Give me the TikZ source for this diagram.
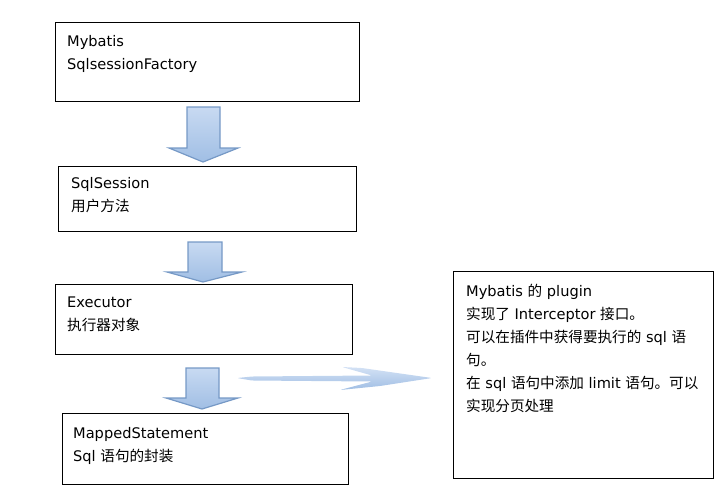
\documentclass[tikz,border=0pt]{standalone}
\usepackage{fontspec}
\setmainfont{DejaVu Sans}
\newfontfamily\cjk{Noto Sans CJK SC}
\usetikzlibrary{positioning}
\definecolor{arrow border color}{RGB}{118,153,198}
\definecolor{arrow top color}{RGB}{200,218,242}
\definecolor{arrow bottom color}{RGB}{160,190,228}
\tikzset{
    x={1pt},
    y={-1pt},
    box/.style={
        draw=black,
        line width={1pt},
        rectangle,
        anchor=north west,
        inner sep=0pt,
    },
    box text/.style={
        anchor=north west,
        align=left,
        inner sep=0pt,
        font={\fontsize{14.6}{23}\selectfont},
        xshift=12pt,
        yshift=-13pt,
    },
    block arrow/.style={
        draw=arrow border color,
        line width={1.2pt},
        top color=arrow top color,
        bottom color=arrow bottom color,
    },
    swoosh/.style={
        top color=arrow top color!80!white,
        bottom color=arrow bottom color,
        rounded corners={1.5pt},
    },
}

\begin{document}
\begin{tikzpicture}
\useasboundingbox (0,0) rectangle (721,488);
% boxes
\node[box, minimum width=304, minimum height=79] (factory) at (55,22) {};
\node[box, minimum width=298, minimum height=65] (session) at (58,166) {};
\node[box, minimum width=297, minimum height=70] (executor) at (55,284) {};
\node[box, minimum width=286, minimum height=71] (statement) at (62,413) {};
\node[box, minimum width=260, minimum height=207] (plugin) at (453,271) {};
% texts
\node[box text] (factory text) at (factory.north west) {Mybatis\\SqlsessionFactory};
\node[box text, xshift=1pt, yshift=2pt] (session text) at (session.north west) {SqlSession\\{\cjk 用户方法}};
\node[box text] (executor text) at (executor.north west) {Executor\\{\cjk 执行器对象}};
\node[box text, xshift=-1pt, yshift=-1pt] (statement text) at (statement.north west) {MappedStatement\\Sql {\cjk 语句的封装}};
\node[box text, xshift=1pt] (plugin text) at (plugin.north west) {Mybatis {\cjk 的} plugin\\
    {\cjk 实现了} Interceptor {\cjk 接口。}\\
    {\cjk 可以在插件中获得要执行的} sql {\cjk 语}\\
    {\cjk 句。}\\
    {\cjk 在} sql {\cjk 语句中添加} limit {\cjk 语句。可以}\\
    {\cjk 实现分页处理}};
% arrows
\path[block arrow] (187,107) -- (220,107) -- (220,148) -- (238,148) -- (203,162) -- (169,148) -- (187,148) -- cycle;
\path[block arrow] (188,242) -- (222,242) -- (222,272) -- (242,272) -- (203,282) -- (167,272) -- (188,272) -- cycle;
\path[block arrow] (186,368) -- (219,368) -- (219,398) -- (238,398) -- (202,409) -- (166,398) -- (186,398) -- cycle;
\path[swoosh] (237,378) -- (252,376.5) -- (372,375.5) -- (342,367) -- (362,368) -- (432,378) -- (380,386) -- (340,390) -- (372,381.5) -- (252,380.5) -- cycle;
\end{tikzpicture}
\end{document}
